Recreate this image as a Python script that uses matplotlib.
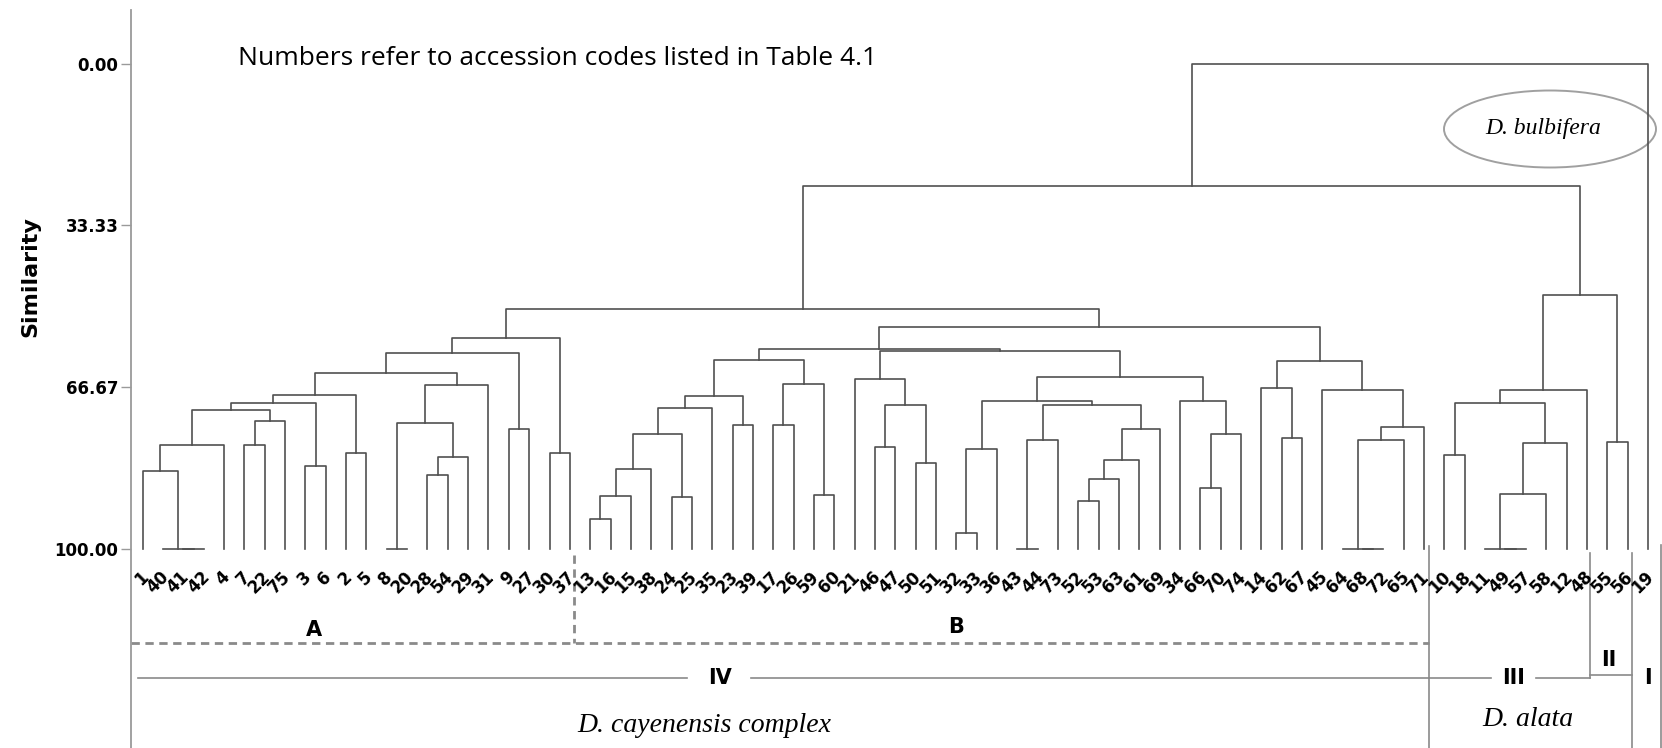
import matplotlib.pyplot as plt
from matplotlib.patches import Ellipse

plt.rcParams['font.family'] = ['DejaVu Sans']

# accession codes in dendrogram (leaf) order
leaves = [1, 40, 41, 42, 4, 7, 22, 75, 3, 6, 2, 5, 8, 20, 28, 54, 29, 31, 9, 27, 30, 37,
          13, 16, 15, 38, 24, 25, 35, 23, 39, 17, 26, 59, 60, 21, 46, 47, 50, 51,
          32, 33, 36, 43, 44, 73, 52, 53, 63, 61, 69, 34, 66, 70, 74,
          14, 62, 67, 45, 64, 68, 72, 65, 71,
          10, 18, 11, 49, 57, 58, 12, 48, 55, 56, 19]

# merges: (first leaf of left cluster, last leaf of right cluster, similarity)
merges = [
    # group A
    (41, 42, 100.0), (40, 42, 100.0), (1, 42, 83.9), (1, 4, 78.5),
    (7, 22, 78.5), (7, 75, 73.6), (1, 75, 71.3), (3, 6, 82.8), (1, 6, 69.8),
    (2, 5, 80.2), (1, 5, 68.2), (8, 20, 100.0), (28, 54, 84.7), (28, 29, 81.0),
    (8, 29, 73.9), (8, 31, 66.2), (1, 31, 63.8), (9, 27, 75.2), (1, 27, 59.5),
    (30, 37, 80.2), (1, 37, 56.4),
    # group B
    (13, 16, 93.8), (13, 15, 89.0), (13, 38, 83.5), (24, 25, 89.3), (13, 25, 76.3),
    (13, 35, 70.9), (23, 39, 74.4), (13, 39, 68.4), (17, 26, 74.4), (59, 60, 88.8),
    (17, 60, 66.0), (13, 60, 61.0),
    (46, 47, 79.0), (50, 51, 82.3), (46, 51, 70.3), (21, 51, 64.9),
    (32, 33, 96.6), (32, 36, 79.4), (43, 44, 100.0), (43, 73, 77.4), (52, 53, 90.1),
    (52, 63, 85.5), (52, 61, 81.6), (52, 69, 75.2), (43, 69, 70.3), (32, 69, 69.5),
    (66, 70, 87.4), (66, 74, 76.3), (34, 74, 69.5), (32, 74, 64.6),
    (21, 74, 59.1), (13, 74, 58.8),
    (62, 67, 77.0), (14, 67, 66.7), (68, 72, 100.0), (64, 72, 100.0), (64, 65, 77.5),
    (64, 71, 74.8), (45, 71, 67.1), (14, 71, 61.3),
    (13, 71, 54.2), (1, 71, 50.6),
    # groups III and II
    (10, 18, 80.6), (49, 57, 100.0), (11, 57, 100.0), (11, 58, 88.6), (11, 12, 78.1),
    (10, 12, 69.9), (10, 48, 67.1), (55, 56, 77.9), (10, 56, 47.6),
    # top
    (1, 56, 25.3), (1, 19, 0.0),
]

tick_values = [0, 33.33, 66.67, 100]
tick_labels = ['0.00', '33.33', '66.67', '100.00']

W, H = 1662, 748
fig = plt.figure(figsize=(W / 100, H / 100), dpi=100)

# layout of the original picture, in pixels
x0_px, dx_px = 142.7, 20.34   # first leaf, leaf spacing
y0_px, dy_px = 63.6, 4.857    # similarity 0, pixels per similarity unit
ax_left_px, ax_top_px = 131, 10


def px2x(p):
    return (p - x0_px) / dx_px


def px2y(p):
    return (p - y0_px) / dy_px


ax = fig.add_axes([ax_left_px / W, 0, 1 - ax_left_px / W, (H - ax_top_px) / H])
ax.set_xlim(px2x(ax_left_px), px2x(W))
ax.set_ylim(px2y(H), px2y(ax_top_px))

# dendrogram
pos = {lab: i for i, lab in enumerate(leaves)}
clusters = {i: (i, float(i), 100.0) for i in range(len(leaves))}  # start -> (end, x, height)
line_kw = dict(color='#505050', lw=1.2, solid_capstyle='projecting')
for a, b, sim in merges:
    i, j = pos[a], pos[b]
    le, lx, lh = clusters[i]
    rs = next(s for s, c in clusters.items() if c[0] == j)
    assert rs == le + 1
    _, rx, rh = clusters.pop(rs)
    ax.plot([lx, lx, rx, rx], [lh, sim, sim, rh], **line_kw)
    clusters[i] = (j, (lx + rx) / 2, sim)

for i, lab in enumerate(leaves):
    ax.text(i + 0.15, px2y(574), str(lab), rotation=45, rotation_mode='anchor',
            ha='right', va='center', fontsize=12, fontweight='bold')

# axis styling
for s in ['top', 'right', 'bottom']:
    ax.spines[s].set_visible(False)
ax.spines['left'].set_color('#9a9a9a')
ax.spines['left'].set_linewidth(1.3)
ax.set_xticks([])
ax.set_yticks(tick_values)
ax.set_yticklabels(tick_labels, fontweight='bold')
ax.tick_params(axis='y', length=7, width=1.0, color='#9a9a9a', pad=2, labelsize=12)
fig.text(30 / W, 1 - 277 / H, 'Similarity', rotation=90, ha='center', va='center',
         fontsize=16, fontweight='bold')

ax.text(px2x(238), px2y(59), 'Numbers refer to accession codes listed in Table 4.1',
        ha='left', va='center', fontsize=19, family='Open Sans')

# group brackets
grey = '#8a8a8a'
split_ab = pos[13] - 0.8
split_3 = pos[10] - 0.75
split_2 = pos[55] - 0.85
split_1 = pos[19] - 0.8
edge_x = px2x(W - 1.5)

ax.plot([px2x(ax_left_px), split_3], [px2y(643)] * 2, color=grey, lw=2, ls=(0, (3, 2)))
ax.plot([split_ab, split_ab], [px2y(555), px2y(643)], color=grey, lw=2, ls=(0, (3, 2)))
ax.text(8.4, px2y(630), 'A', ha='center', va='center', fontsize=15, fontweight='bold')
ax.text(40.0, px2y(627), 'B', ha='center', va='center', fontsize=15, fontweight='bold')

yl = px2y(678)
ax.plot([px2x(138), 26.75], [yl, yl], color=grey, lw=1.2)
ax.plot([29.9, split_3], [yl, yl], color=grey, lw=1.2)
ax.text(28.4, yl, 'IV', ha='center', va='center', fontsize=15, fontweight='bold')
ax.plot([split_3, 66.3], [yl, yl], color=grey, lw=1.2)
ax.plot([68.5, split_2], [yl, yl], color=grey, lw=1.2)
ax.text(67.4, yl, 'III', ha='center', va='center', fontsize=15, fontweight='bold')
ax.plot([split_2, split_1], [px2y(675)] * 2, color=grey, lw=1.2)
ax.text(72.1, px2y(660), 'II', ha='center', va='center', fontsize=15, fontweight='bold')
ax.text(74.0, yl, 'I', ha='center', va='center', fontsize=15, fontweight='bold')

ax.plot([split_3, split_3], [px2y(546), px2y(H)], color=grey, lw=1.2)
ax.plot([split_2, split_2], [px2y(553), yl], color=grey, lw=1.2)
ax.plot([split_1, split_1], [px2y(553), px2y(H)], color=grey, lw=1.2)
ax.plot([edge_x, edge_x], [px2y(545), px2y(H)], color=grey, lw=1.2)

ax.text(27.6, px2y(725), 'D. cayenensis complex', ha='center', va='center',
        fontsize=20, style='italic', family='Liberation Serif')
ax.text(68.1, px2y(720), 'D. alata', ha='center', va='center',
        fontsize=20, style='italic', family='Liberation Serif')
ax.add_patch(Ellipse((px2x(1550), px2y(129)), 212 / dx_px, 77 / dy_px,
                     fill=False, edgecolor='#a0a0a0', lw=1.4))
ax.text(px2x(1543), px2y(129), 'D. bulbifera', ha='center', va='center',
        fontsize=17, style='italic', family='Liberation Serif')

fig.savefig('out.png', dpi=100)
